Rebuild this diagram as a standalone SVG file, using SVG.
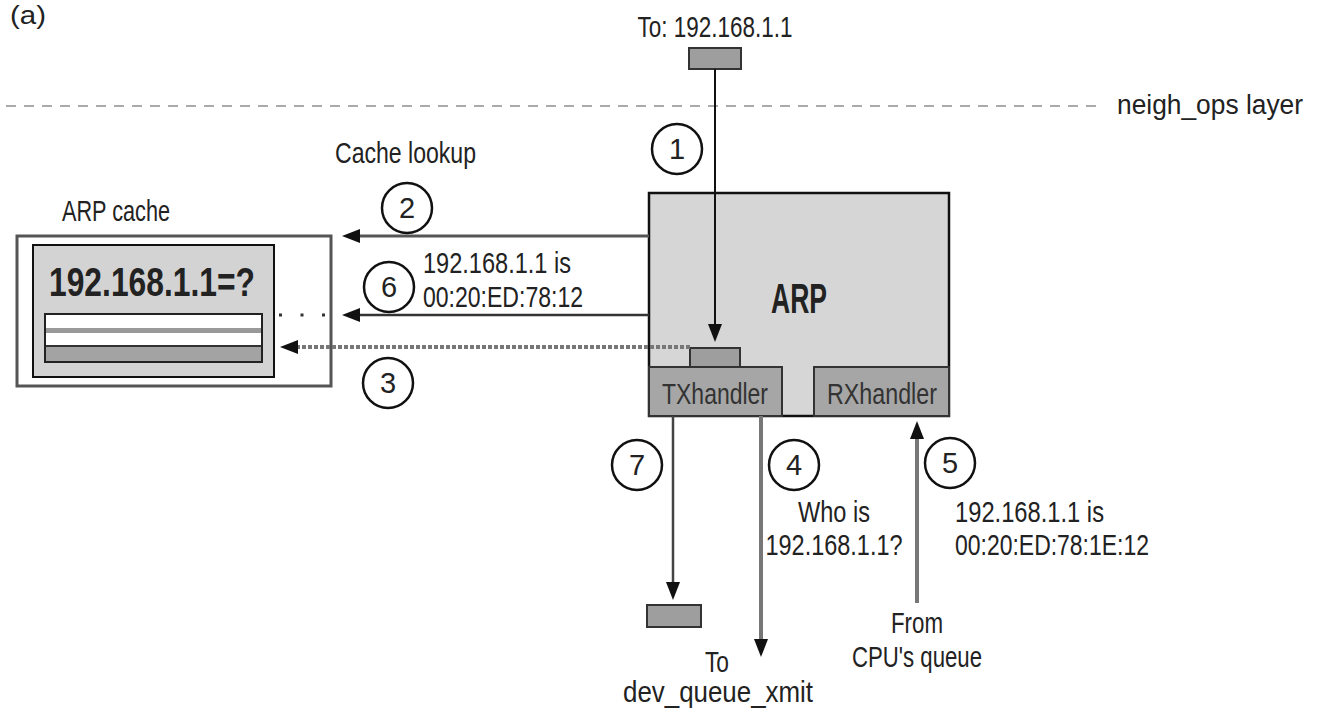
<svg xmlns="http://www.w3.org/2000/svg" width="1320" height="713" viewBox="0 0 1320 713">
<style>
text{font-family:"Liberation Sans Narrow","Liberation Sans",Arial,sans-serif;fill:#222}
.lbl{font-size:30px}
.num{font-size:29px;text-anchor:middle}
.bold{font-weight:bold}
.circ{fill:#fff;stroke:#111;stroke-width:2.5}
.pkt{fill:#9e9e9e;stroke:#333;stroke-width:2}
.conn{fill:none}
</style>
<defs>
<marker id="ah" markerUnits="userSpaceOnUse" markerWidth="18" markerHeight="14" refX="10" refY="7" orient="auto">
<path d="M0,0 L18,7 L0,14 z" fill="#111"/>
</marker>
</defs>
<rect width="1320" height="713" fill="#fff"/>

<text x="10" y="24" style="font-size:26px" textLength="36" lengthAdjust="spacingAndGlyphs">(a)</text>

<g id="layer-line">
<line x1="6" y1="106" x2="1104" y2="106" stroke="#aaa" stroke-width="2" stroke-dasharray="10 8"/>
<text x="1303" y="114" text-anchor="end" style="font-size:27px" textLength="186" lengthAdjust="spacingAndGlyphs">neigh_ops layer</text>
</g>

<g id="src-packet">
<text class="lbl" x="715" y="37" text-anchor="middle" textLength="155" lengthAdjust="spacingAndGlyphs">To: 192.168.1.1</text>
<rect class="pkt" x="689" y="48" width="52" height="21"/>
</g>

<g id="arp-cache">
<text class="lbl" x="62" y="221" textLength="108" lengthAdjust="spacingAndGlyphs">ARP cache</text>
<rect x="17" y="236" width="314" height="150" fill="#fff" stroke="#555" stroke-width="3"/>
<rect x="33" y="245" width="241" height="132" fill="#d3d3d3" stroke="#111" stroke-width="2"/>
<text class="bold" x="49" y="296" style="font-size:41px" textLength="206" lengthAdjust="spacingAndGlyphs">192.168.1.1=?</text>
<rect x="45" y="314" width="217" height="48" fill="#fff" stroke="#222" stroke-width="2"/>
<rect x="46" y="328" width="215" height="5" fill="#999"/>
<rect x="46" y="347" width="215" height="14" fill="#a3a3a3"/>
<line x1="46" y1="346" x2="261" y2="346" stroke="#333" stroke-width="2"/>
<line x1="279" y1="315" x2="327" y2="315" stroke="#333" stroke-width="3" stroke-dasharray="3 18.5"/>
</g>

<g id="arp">
<rect x="649" y="193" width="300" height="223" fill="#d6d6d6" stroke="#111" stroke-width="2.5"/>
<text class="bold" x="771" y="313" style="font-size:42px" textLength="56" lengthAdjust="spacingAndGlyphs">ARP</text>
</g>

<g id="txhandler">
<rect x="649" y="367" width="133" height="49" fill="#a6a6a6" stroke="#333" stroke-width="2"/>
<rect class="pkt" x="690" y="348" width="50" height="19"/>
<text class="lbl" x="662" y="404" style="fill:#333" textLength="106" lengthAdjust="spacingAndGlyphs">TXhandler</text>
</g>

<g id="rxhandler">
<rect x="814" y="367" width="135" height="49" fill="#a6a6a6" stroke="#333" stroke-width="2"/>
<text class="lbl" x="827" y="404" style="fill:#333" textLength="110" lengthAdjust="spacingAndGlyphs">RXhandler</text>
</g>

<g id="out-packet">
<rect class="pkt" x="647" y="605" width="54" height="22"/>
</g>

<g id="connectors" class="conn">
<line x1="715" y1="69" x2="715" y2="334" stroke="#111" stroke-width="2" marker-end="url(#ah)"/>
<line x1="649" y1="236" x2="350" y2="236" stroke="#555" stroke-width="3" marker-end="url(#ah)"/>
<line x1="649" y1="315" x2="350" y2="315" stroke="#333" stroke-width="2.5" marker-end="url(#ah)"/>
<line x1="690" y1="347" x2="288" y2="347" stroke="#777" stroke-width="4" stroke-dasharray="4 2" marker-end="url(#ah)"/>
<line x1="673" y1="416" x2="673" y2="592" stroke="#444" stroke-width="2.5" marker-end="url(#ah)"/>
<line x1="761" y1="416" x2="761" y2="649" stroke="#777" stroke-width="4" marker-end="url(#ah)"/>
<line x1="917" y1="603" x2="917" y2="429" stroke="#777" stroke-width="4" marker-end="url(#ah)"/>
</g>

<g id="step-labels">
<text class="lbl" x="335" y="163" textLength="141" lengthAdjust="spacingAndGlyphs">Cache lookup</text>
<text class="lbl" x="423" y="273" textLength="148" lengthAdjust="spacingAndGlyphs">192.168.1.1 is</text>
<text class="lbl" x="423" y="307" textLength="160" lengthAdjust="spacingAndGlyphs">00:20:ED:78:12</text>
<text class="lbl" x="834" y="522" text-anchor="middle" textLength="72" lengthAdjust="spacingAndGlyphs">Who is</text>
<text class="lbl" x="834" y="555" text-anchor="middle" textLength="137" lengthAdjust="spacingAndGlyphs">192.168.1.1?</text>
<text class="lbl" x="955" y="522" textLength="149" lengthAdjust="spacingAndGlyphs">192.168.1.1 is</text>
<text class="lbl" x="955" y="555" textLength="194" lengthAdjust="spacingAndGlyphs">00:20:ED:78:1E:12</text>
<text class="lbl" x="917" y="633" text-anchor="middle" textLength="52" lengthAdjust="spacingAndGlyphs">From</text>
<text class="lbl" x="917" y="667" text-anchor="middle" textLength="130" lengthAdjust="spacingAndGlyphs">CPU's queue</text>
<text class="lbl" x="717" y="672" text-anchor="middle" textLength="24" lengthAdjust="spacingAndGlyphs">To</text>
<text class="lbl" x="718" y="702" text-anchor="middle" textLength="190" lengthAdjust="spacingAndGlyphs">dev_queue_xmit</text>
</g>

<g id="step-1"><circle class="circ" cx="677" cy="149" r="25"/><text class="num" x="677" y="159">1</text></g>
<g id="step-2"><circle class="circ" cx="407" cy="208" r="25"/><text class="num" x="407" y="218">2</text></g>
<g id="step-3"><circle class="circ" cx="388" cy="383" r="25"/><text class="num" x="388" y="393">3</text></g>
<g id="step-4"><circle class="circ" cx="794" cy="465" r="25"/><text class="num" x="794" y="475">4</text></g>
<g id="step-5"><circle class="circ" cx="950" cy="463" r="25"/><text class="num" x="950" y="473">5</text></g>
<g id="step-6"><circle class="circ" cx="389" cy="287" r="25"/><text class="num" x="389" y="297">6</text></g>
<g id="step-7"><circle class="circ" cx="637" cy="465" r="25"/><text class="num" x="637" y="475">7</text></g>
</svg>
